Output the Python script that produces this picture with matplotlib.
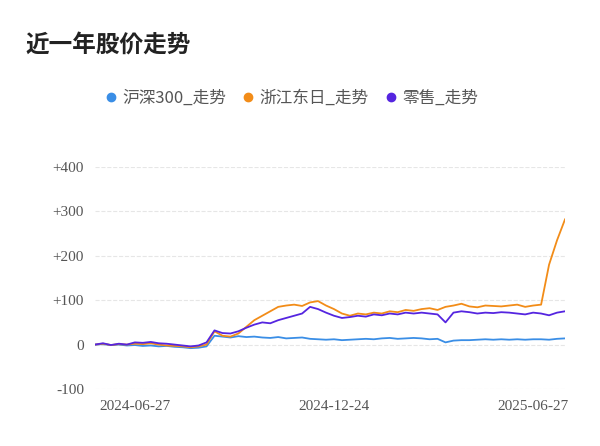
import matplotlib.pyplot as plt
from matplotlib import font_manager

cjk = ["Noto Sans CJK SC", "Noto Sans CJK JP", "Noto Sans CJK TC", "DejaVu Sans"]
plt.rcParams["font.family"] = "sans-serif"
plt.rcParams["font.sans-serif"] = cjk

# 数据(按图估读,约每4个交易日一个点)
hs300 = [0, 1, -1, 0, -2, -1, -3, -2, -4, -3, -5, -6, -8, -7, -4, 20, 18, 16, 19, 17,
         18, 16, 15, 17, 14, 15, 16, 13, 12, 11, 12, 10, 11, 12, 13, 12, 14, 15, 13, 14,
         15, 14, 12, 13, 5, 9, 10, 10, 11, 12, 11, 12, 11, 12, 11, 12, 12, 11, 13, 14]
zjdr = [0, 2, -1, 1, 0, 2, 1, 3, 0, -2, -3, -4, -6, -4, 0, 30, 20, 18, 25, 40,
        55, 65, 75, 85, 88, 90, 87, 95, 98, 88, 80, 70, 65, 70, 68, 72, 70, 75, 73, 78,
        76, 80, 82, 78, 85, 88, 92, 86, 84, 88, 87, 86, 88, 90, 85, 88, 90, 180, 235, 282]
lingshou = [0, 3, -1, 2, 0, 5, 4, 6, 3, 2, 0, -2, -4, -2, 5, 32, 26, 25, 30, 38,
            45, 50, 48, 55, 60, 65, 70, 85, 80, 72, 65, 60, 62, 65, 63, 68, 66, 70, 68, 72,
            70, 72, 70, 68, 50, 72, 75, 73, 70, 72, 71, 73, 72, 70, 68, 72, 70, 66, 72, 75]
series_names = ["沪深300_走势", "浙江东日_走势", "零售_走势"]
colors = ["#3a8ee6", "#f28c18", "#5525e0"]
tick_labels = ["2024-06-27", "2024-12-24", "2025-06-27"]
tick_pos = [5.0, 30.0, 55.0]

fig = plt.figure(figsize=(6, 4.46), dpi=100)
ax = fig.add_axes([95/600, 1-389/446, 470/600, 222/446])

x = range(len(hs300))
for ys, c, n in zip([hs300, zjdr, lingshou], colors, series_names):
    ax.plot(x, ys, color=c, lw=1.3, label=n)

ax.set_xlim(0, len(hs300) - 1)
ax.set_ylim(-100, 400)
ax.set_yticks([-100, 0, 100, 200, 300, 400])
ax.set_yticklabels(["-100", "0", "+100", "+200", "+300", "+400"],
                   fontfamily="Liberation Serif", fontsize=11, color="#555555")
ax.set_xticks(tick_pos)
ax.set_xticklabels(tick_labels, fontfamily="Liberation Serif", fontsize=11, color="#555555")
ax.tick_params(length=0, pad=8)
ax.grid(axis="y", ls="--", color="#e6e6e6", lw=0.8)
for s in ax.spines.values():
    s.set_visible(False)

fig.text(25/600, 1-45/446, "近一年股价走势", fontsize=17, fontweight="bold",
         color="#222222", va="center", fontfamily=cjk)
ax.legend(loc="center", bbox_to_anchor=(292/600, 1-98/446), bbox_transform=fig.transFigure,
          ncol=3, frameon=False, handlelength=0.6, handletextpad=0.4,
          columnspacing=1.0, labelcolor="#555555",
          prop=font_manager.FontProperties(family=cjk, size=12),
          handles=[plt.Line2D([], [], marker="o", ls="", color=c, markersize=6) for c in colors],
          labels=series_names)

fig.savefig("out.png")
